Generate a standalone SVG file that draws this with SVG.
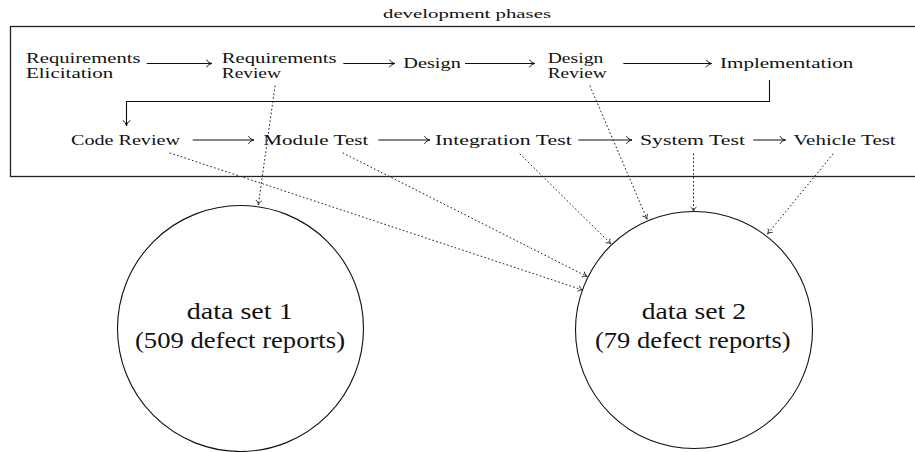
<svg xmlns="http://www.w3.org/2000/svg" width="915" height="452" viewBox="0 0 915 452">
<style>
text{font-family:"Liberation Serif","DejaVu Serif","Times New Roman",serif;fill:#111}
.t{font-size:14.5px}
.c{font-size:24px}
.h{font-size:13.5px}
.solid{fill:none;stroke:#111;stroke-width:1.1}
.dot{fill:none;stroke:#222;stroke-width:1;stroke-dasharray:0.9 3;stroke-linecap:round}
.frame{fill:none;stroke:#222;stroke-width:1.3}
.node{fill:none;stroke:#111;stroke-width:1.1}
</style>
<defs>
<marker id="ah" viewBox="-7 -5 8 10" markerWidth="8" markerHeight="10" refX="0" refY="0" orient="auto" markerUnits="userSpaceOnUse" overflow="visible">
<path d="M-5.5 -3.8 C-4.5 -1.6 -1.8 -0.3 0 0 C-1.8 0.3 -4.5 1.6 -5.5 3.8" fill="none" stroke="#111" stroke-width="1"/>
</marker>
<marker id="ad" viewBox="-6 -4 7 8" markerWidth="7" markerHeight="8" refX="0" refY="0" orient="auto" markerUnits="userSpaceOnUse" overflow="visible">
<path d="M-4.5 -3 C-3.6 -1.3 -1.5 -0.25 0 0 C-1.5 0.25 -3.6 1.3 -4.5 3" fill="none" stroke="#222" stroke-width="0.9"/>
</marker>
</defs>

<g id="phases-frame">
<rect class="frame" x="10.5" y="26.5" width="907" height="150"/>
<text class="h" x="383" y="17.5" textLength="168" lengthAdjust="spacingAndGlyphs">development phases</text>
</g>

<g id="n-req-elicitation">
<text class="t" x="26" y="62.5" textLength="114.5" lengthAdjust="spacingAndGlyphs">Requirements</text>
<text class="t" x="26" y="77.5" textLength="87.3" lengthAdjust="spacingAndGlyphs">Elicitation</text>
</g>
<g id="n-req-review">
<text class="t" x="221.7" y="62.5" textLength="115" lengthAdjust="spacingAndGlyphs">Requirements</text>
<text class="t" x="221.7" y="77.5" textLength="59.3" lengthAdjust="spacingAndGlyphs">Review</text>
</g>
<g id="n-design">
<text class="t" x="403.3" y="68" textLength="57.5" lengthAdjust="spacingAndGlyphs">Design</text>
</g>
<g id="n-design-review">
<text class="t" x="547.7" y="62.5" textLength="55.6" lengthAdjust="spacingAndGlyphs">Design</text>
<text class="t" x="547.7" y="77.5" textLength="59" lengthAdjust="spacingAndGlyphs">Review</text>
</g>
<g id="n-implementation">
<text class="t" x="720" y="68" textLength="133.3" lengthAdjust="spacingAndGlyphs">Implementation</text>
</g>
<g id="n-code-review">
<text class="t" x="71" y="144.5" textLength="109" lengthAdjust="spacingAndGlyphs">Code Review</text>
</g>
<g id="n-module-test">
<text class="t" x="263.3" y="144.5" textLength="105" lengthAdjust="spacingAndGlyphs">Module Test</text>
</g>
<g id="n-integration-test">
<text class="t" x="435" y="144.5" textLength="136.7" lengthAdjust="spacingAndGlyphs">Integration Test</text>
</g>
<g id="n-system-test">
<text class="t" x="640" y="144.5" textLength="105" lengthAdjust="spacingAndGlyphs">System Test</text>
</g>
<g id="n-vehicle-test">
<text class="t" x="793.3" y="144.5" textLength="102.4" lengthAdjust="spacingAndGlyphs">Vehicle Test</text>
</g>

<g id="n-data-set-1">
<circle class="node" cx="240.5" cy="328.5" r="123"/>
<text class="c" x="186.7" y="319.3" textLength="106" lengthAdjust="spacingAndGlyphs">data set 1</text>
<text class="c" x="135" y="347.5" textLength="210" lengthAdjust="spacingAndGlyphs">(509 defect reports)</text>
</g>
<g id="n-data-set-2">
<circle class="node" cx="694" cy="330" r="118.5"/>
<text class="c" x="641.7" y="319.3" textLength="104.3" lengthAdjust="spacingAndGlyphs">data set 2</text>
<text class="c" x="595" y="347.5" textLength="195.7" lengthAdjust="spacingAndGlyphs">(79 defect reports)</text>
</g>

<g id="connectors">
<path class="solid" d="M146.7 63.5 H212" marker-end="url(#ah)"/>
<path class="solid" d="M343.3 63.5 H395" marker-end="url(#ah)"/>
<path class="solid" d="M465 63.5 H535" marker-end="url(#ah)"/>
<path class="solid" d="M623.3 63.5 H711.7" marker-end="url(#ah)"/>
<path class="solid" d="M769.5 80 V101.5 H126.5 V126" marker-end="url(#ah)"/>
<path class="solid" d="M192.7 140 H254" marker-end="url(#ah)"/>
<path class="solid" d="M378.3 140 H430" marker-end="url(#ah)"/>
<path class="solid" d="M578.3 140 H632" marker-end="url(#ah)"/>
<path class="solid" d="M753.3 140 H785.5" marker-end="url(#ah)"/>

<path class="dot" d="M275 86 L258.3 205" marker-end="url(#ad)"/>
<path class="dot" d="M170 153 L582.7 290" marker-end="url(#ad)"/>
<path class="dot" d="M343 153 L587 276.5" marker-end="url(#ad)"/>
<path class="dot" d="M520 154 L611 244" marker-end="url(#ad)"/>
<path class="dot" d="M590 86 L647 219" marker-end="url(#ad)"/>
<path class="dot" d="M693.5 154 L693.5 211.5" marker-end="url(#ad)"/>
<path class="dot" d="M833 154 L767.5 234" marker-end="url(#ad)"/>
</g>
</svg>
